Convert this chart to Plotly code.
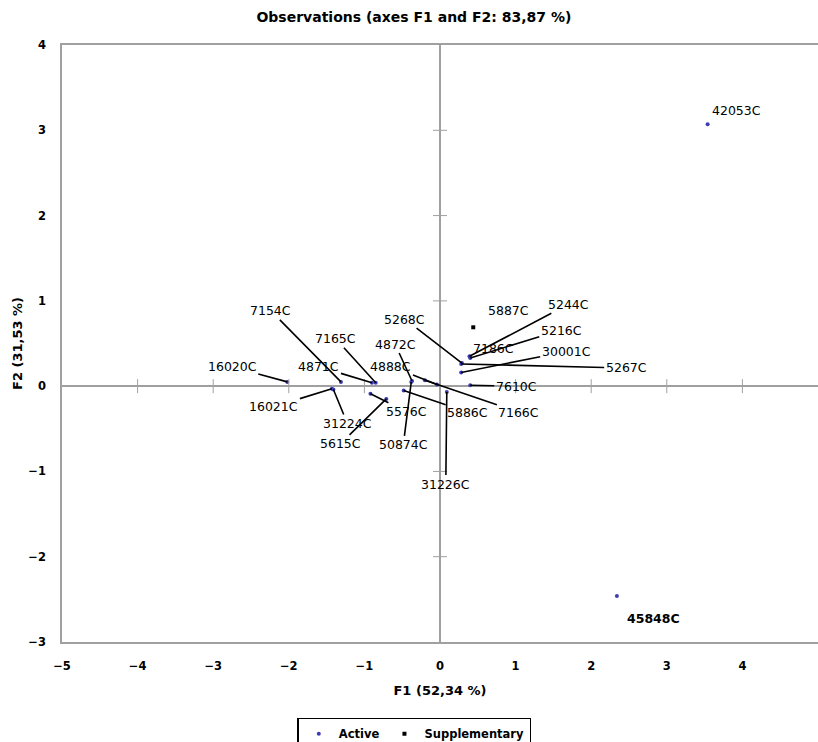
import plotly.graph_objects as go

# ---- data ----
active_names = ["16020C", "16021C", "31224C", "7154C", "4871C", "7165C", "5576C", "5615C",
                "4872C", "50874C", "5886C", "7166C", "4888C", "31226C", "5268C", "5267C",
                "30001C", "7186C", "5244C", "5216C", "7610C", "42053C", "45848C"]
active_f1 = [-2.02, -1.43, -1.41, -1.31, -0.90, -0.85, -0.92, -0.71,
             -0.37, -0.38, -0.48, -0.20, -0.04, 0.09, 0.29, 0.28,
             0.28, 0.40, 0.39, 0.40, 0.40, 3.54, 2.34]
active_f2 = [0.05, -0.03, -0.04, 0.05, 0.04, 0.04, -0.09, -0.15,
             0.06, 0.05, -0.05, 0.07, 0.02, -0.07, 0.27, 0.26,
             0.16, 0.34, 0.35, 0.33, 0.01, 3.07, -2.46]

supp_names = ["5887C"]
supp_f1 = [0.44]
supp_f2 = [0.69]

x_ticks = [-5, -4, -3, -2, -1, 0, 1, 2, 3, 4, 5]
y_ticks = [-3, -2, -1, 0, 1, 2, 3, 4]

# ---- label placement (pixel offsets of label centre from point, leader line?) ----
label_pos = {
    "16020C": (-55, -15, True), "16021C": (-58, 18, True), "31224C": (14, 34, True),
    "7154C": (-70, -71, True), "4871C": (-53, -16, True), "7165C": (-40, -44, True),
    "5576C": (36, 18, True), "5615C": (-46, 45, True), "4872C": (-17, -37, True),
    "50874C": (-8, 63, True), "5886C": (64, 22, True), "7166C": (94, 32, True),
    "4888C": (-46, -18, True), "31226C": (-1, 92, True), "5268C": (-57, -44, True),
    "5267C": (165, 4, True), "30001C": (105, -21, True), "7186C": (23, -9, False),
    "5244C": (99, -52, True), "5216C": (91, -28, True), "7610C": (46, 1, True),
    "42053C": (29, -14, False), "45848C": (37, 23, False), "5887C": (35, -17, False),
}

FONT = "DejaVu Sans"
AXIS_GRAY = "#a0a0a0"

fig = go.Figure()

fig.add_trace(go.Scatter(x=active_f1, y=active_f2, mode="markers", name="Active",
                         marker=dict(color="#3c3cb4", size=4, symbol="circle"),
                         hoverinfo="text", text=active_names))
fig.add_trace(go.Scatter(x=supp_f1, y=supp_f2, mode="markers", name="Supplementary",
                         marker=dict(color="#000000", size=4, symbol="square"),
                         hoverinfo="text", text=supp_names))

# tick marks crossing the zero lines
xt = [t for t in x_ticks if t not in (0, x_ticks[0], x_ticks[-1])]
yt = [t for t in y_ticks if t not in (0, y_ticks[0], y_ticks[-1])]
fig.add_trace(go.Scatter(x=xt, y=[0] * len(xt), mode="markers", showlegend=False, hoverinfo="skip",
                         marker=dict(symbol="line-ns", size=10, line=dict(color=AXIS_GRAY, width=1))))
fig.add_trace(go.Scatter(x=[0] * len(yt), y=yt, mode="markers", showlegend=False, hoverinfo="skip",
                         marker=dict(symbol="line-ew", size=10, line=dict(color=AXIS_GRAY, width=1))))

names = active_names + supp_names
xs = active_f1 + supp_f1
ys = active_f2 + supp_f2
for n, x, y in zip(names, xs, ys):
    ax, ay, lead = label_pos[n]
    fig.add_annotation(x=x, y=y, text=n, showarrow=True, ax=ax, ay=ay,
                       arrowhead=0, arrowwidth=1.6,
                       arrowcolor="#000000" if lead else "rgba(0,0,0,0)",
                       standoff=0,
                       font=dict(family=FONT, size=12.5, color="#000000",
                                 weight="bold" if n == "45848C" else "normal"))

fig.update_layout(
    width=818, height=742,
    margin=dict(l=62, r=0, t=45, b=100, autoexpand=False),
    paper_bgcolor="white", plot_bgcolor="white",
    font=dict(family=FONT, color="#000000"),
    title=dict(text="Observations (axes F1 and F2: 83,87 %)", x=0.506, xanchor="center",
               y=1 - 17 / 742, yanchor="middle",
               font=dict(family=FONT, size=14, weight="bold", color="#000000")),
    xaxis=dict(range=[-5, 5], tickvals=x_ticks, showgrid=False,
               zeroline=True, zerolinecolor=AXIS_GRAY, zerolinewidth=1.5,
               showline=True, mirror=True, linecolor=AXIS_GRAY, linewidth=1.5,
               ticks="", ticklabelstandoff=12, automargin=False,
               tickfont=dict(family=FONT, size=11.5, weight="bold", color="#000000"),
               title=dict(text="F1 (52,34 %)", standoff=14,
                          font=dict(family=FONT, size=13, weight="bold", color="#000000"))),
    yaxis=dict(range=[-3, 4], tickvals=y_ticks, showgrid=False,
               zeroline=True, zerolinecolor=AXIS_GRAY, zerolinewidth=1.5,
               showline=True, mirror=True, linecolor=AXIS_GRAY, linewidth=1.5,
               ticks="", ticklabelstandoff=12, automargin=False,
               tickfont=dict(family=FONT, size=11.5, weight="bold", color="#000000"),
               title=dict(text="F2 (31,53 %)", standoff=3,
                          font=dict(family=FONT, size=13, weight="bold", color="#000000"))),
    showlegend=True,
    legend=dict(orientation="h", x=0.466, xanchor="center", y=-0.127, yanchor="top",
                bordercolor="#000000", borderwidth=1.5, bgcolor="white",
                font=dict(family=FONT, size=11.5, weight="bold", color="#000000"),
                itemsizing="trace", itemwidth=30),
)

fig.write_html("out.html")
